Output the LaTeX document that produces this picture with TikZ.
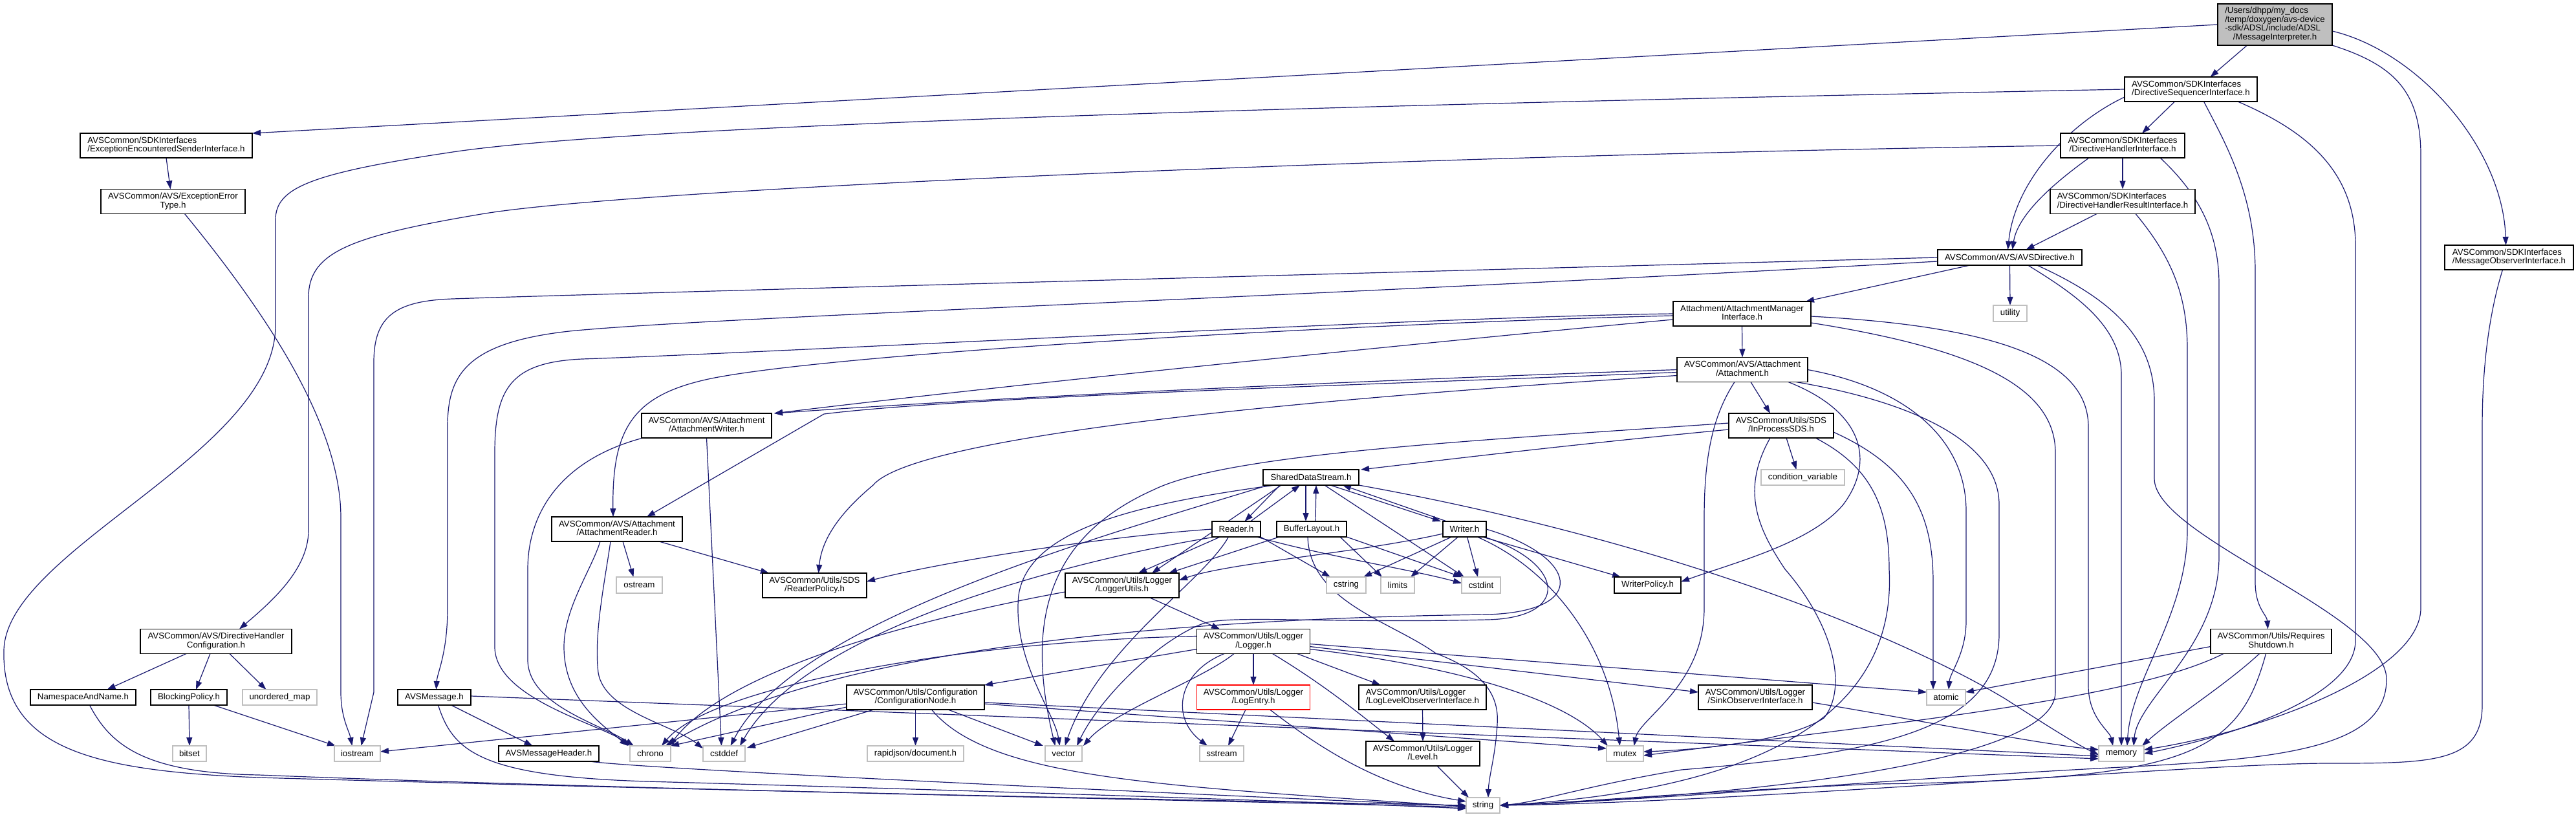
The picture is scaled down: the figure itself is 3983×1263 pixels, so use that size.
\documentclass[tikz,border=0pt]{standalone}
\usepackage{fontspec}
\setmainfont{Liberation Sans}
\usetikzlibrary{arrows.meta,calc}
\definecolor{edgec}{HTML}{191970}
\definecolor{sysc}{HTML}{BFBFBF}
\definecolor{mainfill}{HTML}{BFBFBF}
\newcommand{\dlab}[2]{\begin{tabular}{@{}l@{}}#1\\\multicolumn{1}{@{}c@{}}{#2}\end{tabular}}
\pgfdeclarelayer{bg}
\pgfsetlayers{bg,main}
\tikzset{
  nd/.style={rectangle, inner sep=0pt, outer sep=0pt, line width=1.3pt, fill=white, font={\fontsize{13.3}{13.3}\selectfont}, align=center},
  doc/.style={nd, draw=black},
  sys/.style={nd, draw=sysc},
  incl/.style={draw=edgec, line width=1.2pt, line join=round, -{Triangle[length=13pt,width=9pt]}},
}
\begin{document}
\begin{tikzpicture}[x=1pt,y=1pt]
\useasboundingbox (0,0) rectangle (3983,-1263);
% ---------------- nodes ----------------
\node[doc, fill=mainfill, minimum width=177pt, minimum height=64pt] (MI) at (3517.5,-38) {\begin{tabular}{@{}l@{}}/Users/dhpp/my\_docs\\/temp/doxygen/avs-device\\-sdk/ADSL/include/ADSL\\\multicolumn{1}{@{}c@{}}{/MessageInterpreter.h}\end{tabular}};
\node[doc,minimum width=205pt,minimum height=38pt] (DSI) at (3387.5,-138) {\dlab{AVSCommon/SDKInterfaces}{/DirectiveSequencerInterface.h}};
\node[doc,minimum width=266pt,minimum height=38pt] (EESI) at (257,-225) {\dlab{AVSCommon/SDKInterfaces}{/ExceptionEncounteredSenderInterface.h}};
\node[doc,minimum width=192pt,minimum height=38pt] (DHI) at (3282,-225) {\dlab{AVSCommon/SDKInterfaces}{/DirectiveHandlerInterface.h}};
\node[doc,minimum width=223pt,minimum height=38pt] (EET) at (267.5,-311.5) {\dlab{AVSCommon/AVS/ExceptionError}{Type.h}};
\node[doc,minimum width=224pt,minimum height=38pt] (DHRI) at (3282,-311.5) {\dlab{AVSCommon/SDKInterfaces}{/DirectiveHandlerResultInterface.h}};
\node[doc,minimum width=223pt,minimum height=24pt] (AVSD) at (3107.5,-398) {AVSCommon/AVS/AVSDirective.h};
\node[doc,minimum width=199pt,minimum height=38pt] (MOI) at (3879.5,-398) {\dlab{AVSCommon/SDKInterfaces}{/MessageObserverInterface.h}};
\node[sys,minimum width=52pt,minimum height=25pt] (utility) at (3108,-484.5) {utility};
\node[doc,minimum width=213pt,minimum height=38pt] (AMI) at (2693.5,-485) {\dlab{Attachment/AttachmentManager}{Interface.h}};
\node[doc,minimum width=202pt,minimum height=38pt] (ATT) at (2694,-571.5) {\dlab{AVSCommon/AVS/Attachment}{/Attachment.h}};
\node[doc,minimum width=201pt,minimum height=38pt] (AW) at (1092.5,-658) {\dlab{AVSCommon/AVS/Attachment}{/AttachmentWriter.h}};
\node[doc,minimum width=162pt,minimum height=38pt] (IPSDS) at (2754,-658) {\dlab{AVSCommon/Utils/SDS}{/InProcessSDS.h}};
\node[sys,minimum width=129pt,minimum height=24pt] (condvar) at (2787.5,-738) {condition\_variable};
\node[doc,minimum width=148pt,minimum height=24pt] (SDS) at (2027,-738) {SharedDataStream.h};
\node[doc,minimum width=202pt,minimum height=38pt] (AR) at (954,-818) {\dlab{AVSCommon/AVS/Attachment}{/AttachmentReader.h}};
\node[doc,minimum width=75pt,minimum height=24pt] (Reader) at (1911.5,-818) {Reader.h};
\node[doc,minimum width=108pt,minimum height=24pt] (BL) at (2028,-818) {BufferLayout.h};
\node[doc,minimum width=67pt,minimum height=24pt] (Writer) at (2264.5,-818) {Writer.h};
\node[sys,minimum width=71pt,minimum height=25pt] (ostream) at (988.5,-904.5) {ostream};
\node[doc,minimum width=161pt,minimum height=38pt] (RP) at (1259.5,-905) {\dlab{AVSCommon/Utils/SDS}{/ReaderPolicy.h}};
\node[doc,minimum width=176pt,minimum height=38pt] (LU) at (1735,-905) {\dlab{AVSCommon/Utils/Logger}{/LoggerUtils.h}};
\node[sys,minimum width=61pt,minimum height=25pt] (cstring) at (2081.5,-904.5) {cstring};
\node[sys,minimum width=52pt,minimum height=25pt] (limits) at (2161,-904.5) {limits};
\node[sys,minimum width=60pt,minimum height=25pt] (cstdint) at (2290,-904.5) {cstdint};
\node[doc,minimum width=103pt,minimum height=25pt] (WP) at (2547.5,-904.5) {WriterPolicy.h};
\node[doc,minimum width=234pt,minimum height=38pt] (DHC) at (334,-991.5) {\dlab{AVSCommon/AVS/DirectiveHandler}{Configuration.h}};
\node[doc,minimum width=175pt,minimum height=38pt] (Logger) at (1938,-991.5) {\dlab{AVSCommon/Utils/Logger}{/Logger.h}};
\node[doc,minimum width=187pt,minimum height=38pt] (RS) at (3511.5,-991.5) {\dlab{AVSCommon/Utils/Requires}{Shutdown.h}};
\node[doc,minimum width=163pt,minimum height=24pt] (NAN) at (128.5,-1078) {NamespaceAndName.h};
\node[doc,minimum width=118pt,minimum height=24pt] (BP) at (292,-1078) {BlockingPolicy.h};
\node[sys,minimum width=115pt,minimum height=24pt] (umap) at (432.5,-1078) {unordered\_map};
\node[doc,minimum width=113pt,minimum height=24pt] (AVSM) at (671.5,-1078) {AVSMessage.h};
\node[doc,minimum width=213pt,minimum height=38pt] (CN) at (1415.5,-1078) {\dlab{AVSCommon/Utils/Configuration}{/ConfigurationNode.h}};
\node[doc,draw=red,minimum width=175pt,minimum height=38pt] (LE) at (1938,-1078) {\dlab{AVSCommon/Utils/Logger}{/LogEntry.h}};
\node[doc,minimum width=197pt,minimum height=38pt] (LLOI) at (2199.5,-1078) {\dlab{AVSCommon/Utils/Logger}{/LogLevelObserverInterface.h}};
\node[doc,minimum width=176pt,minimum height=38pt] (SOI) at (2714,-1078) {\dlab{AVSCommon/Utils/Logger}{/SinkObserverInterface.h}};
\node[sys,minimum width=60pt,minimum height=24pt] (atomic) at (3009,-1078) {atomic};
\node[sys,minimum width=52pt,minimum height=24pt] (bitset) at (293,-1165) {bitset};
\node[sys,minimum width=71pt,minimum height=24pt] (iostream) at (552.5,-1165) {iostream};
\node[doc,minimum width=155pt,minimum height=24pt] (AVSMH) at (848.5,-1165) {AVSMessageHeader.h};
\node[sys,minimum width=63pt,minimum height=24pt] (chrono) at (1005.5,-1165) {chrono};
\node[sys,minimum width=65pt,minimum height=24pt] (cstddef) at (1119.5,-1165) {cstddef};
\node[sys,minimum width=149pt,minimum height=24pt] (rapidjson) at (1415.5,-1165) {rapidjson/document.h};
\node[sys,minimum width=57pt,minimum height=24pt] (vector) at (1644.5,-1165) {vector};
\node[sys,minimum width=68pt,minimum height=24pt] (sstream) at (1889,-1165) {sstream};
\node[doc,minimum width=176pt,minimum height=38pt] (Level) at (2200,-1165) {\dlab{AVSCommon/Utils/Logger}{/Level.h}};
\node[sys,minimum width=57pt,minimum height=24pt] (mutex) at (2512.5,-1165) {mutex};
\node[sys,minimum width=70pt,minimum height=24pt] (memory) at (3280,-1165) {memory};
\node[sys,minimum width=52pt,minimum height=24pt] (string) at (2293,-1245) {string};
% ---------------- edges ----------------
\begin{pgfonlayer}{bg}
\fill[white] (0,0) rectangle (3983,-1263);
% MI
\draw[incl] (MI.west) -- (EESI.north east);
\draw[incl] ($(MI.south)+(-43,0)$) -- ($(DSI.north)+(30,0)$);
\draw[incl] ($(MI.east)+(0,-10)$) .. controls (3740,-80) and (3870,-230) .. ($(MOI.north)+(-5,0)$);
\draw[incl] (MI.south east) .. controls (3700,-100) and (3743,-140) .. (3743,-240) -- (3743,-940) .. controls (3743,-1040) and (3500,-1130) .. ($(memory.east)+(0,6)$);
% DSI
\draw[incl] (DSI.west) .. controls (2200,-160) and (1000,-190) .. (700,-235) .. controls (480,-268) and (426,-290) .. (426,-340) -- (426,-503) .. controls (426,-700) and (10,-850) .. (6,-1005) .. controls (2,-1160) and (150,-1192) .. (400,-1202) .. controls (1200,-1225) and (2000,-1240) .. (string.west);
\draw[incl] ($(DSI.west)+(0,-12)$) .. controls (3200,-190) and (3115,-280) .. ($(AVSD.north)+(-3,0)$);
\draw[incl] ($(DSI.south)+(-25,0)$) -- ($(DHI.north)+(30,0)$);
\draw[incl] ($(DSI.south)+(20,0)$) .. controls (3440,-220) and (3487,-300) .. (3487,-420) -- (3487,-900) .. controls (3487,-940) and (3505,-950) .. ($(RS.north)+(-5,0)$);
\draw[incl] ($(DSI.south east)+(-30,0)$) .. controls (3560,-200) and (3642,-260) .. (3642,-380) -- (3642,-990) .. controls (3642,-1080) and (3440,-1140) .. (memory.east);
% EESI, EET
\draw[incl] (EESI.south) -- ($(EET.north)+(-4,0)$);
\draw[incl] ($(EET.south)+(18,0)$) .. controls (400,-470) and (527,-650) .. (527,-800) -- (527,-1070) .. controls (527,-1110) and (540,-1130) .. ($(iostream.north)+(-8,0)$);
% DHI
\draw[incl] (DHI.west) .. controls (2200,-240) and (1000,-290) .. (750,-330) .. controls (540,-365) and (477,-390) .. (477,-460) -- (477,-820) .. controls (477,-880) and (420,-930) .. ($(DHC.north)+(36,0)$);
\draw[incl] ($(DHI.south west)+(44,0)$) .. controls (3180,-280) and (3120,-330) .. ($(AVSD.north)+(4,0)$);
\draw[incl] (DHI.south) -- (DHRI.north);
\draw[incl] ($(DHI.south east)+(-38,0)$) .. controls (3400,-300) and (3431,-360) .. (3431,-440) -- (3431,-860) .. controls (3431,-1000) and (3305,-1080) .. ($(memory.north)+(19,0)$);
% DHRI
\draw[incl] ($(DHRI.south)+(-40,0)$) -- ($(AVSD.north)+(25,0)$);
\draw[incl] ($(DHRI.south)+(20,0)$) .. controls (3360,-400) and (3382,-460) .. (3382,-540) -- (3382,-820) .. controls (3382,-950) and (3295,-1050) .. ($(memory.north)+(9,0)$);
% AVSD
\draw[incl] (AVSD.west) .. controls (2000,-425) and (900,-455) .. (700,-462) .. controls (610,-465) and (578,-490) .. (578,-560) -- (578,-1070) -- ($(iostream.north)+(6,0)$);
\draw[incl] ($(AVSD.west)+(0,-6)$) .. controls (2000,-460) and (1100,-490) .. (880,-512) .. controls (720,-530) and (692,-580) .. (692,-660) -- (692,-940) .. controls (692,-1010) and (676,-1040) .. ($(AVSM.north)+(3,0)$);
\draw[incl] (AVSD.south) -- (utility.north);
\draw[incl] ($(AVSD.south west)+(50,0)$) -- ($(AMI.north east)+(-8,0)$);
\draw[incl] ($(AVSD.south)+(28,0)$) .. controls (3200,-450) and (3280,-500) .. (3280,-580) -- (memory.north);
\draw[incl] ($(AVSD.south)+(42,0)$) .. controls (3260,-460) and (3331,-520) .. (3331,-620) -- (3331,-740) .. controls (3331,-830) and (3690,-950) .. (3690,-1050) .. controls (3690,-1150) and (3550,-1172) .. (3300,-1185) .. controls (2900,-1205) and (2600,-1235) .. (string.east);
% MOI
\draw[incl] ($(MOI.south)+(-10,0)$) .. controls (3850,-480) and (3838,-560) .. (3838,-660) -- (3838,-1090) .. controls (3838,-1180) and (3760,-1180) .. (3600,-1180) .. controls (3400,-1180) and (2700,-1240) .. (string.east);
% AMI
\draw[incl] (AMI.south) -- (ATT.north);
\draw[incl] ($(AMI.west)+(0,-9)$) .. controls (2300,-520) and (1600,-590) .. ($(AW.north east)+(4,0)$);
\draw[incl] ($(AMI.west)+(0,-3)$) .. controls (2100,-500) and (1300,-545) .. (1100,-585) .. controls (980,-610) and (946,-660) .. ($(AR.north)+(-6,0)$);
\draw[incl] (AMI.west) .. controls (2200,-490) and (1200,-545) .. (900,-555) .. controls (790,-560) and (765,-600) .. (765,-700) -- (765,-1000) .. controls (765,-1080) and (930,-1120) .. (chrono.north west);
\draw[incl] ($(AMI.east)+(0,-4)$) .. controls (3100,-505) and (3229,-560) .. (3229,-660) -- (3229,-1060) .. controls (3229,-1110) and (3262,-1130) .. ($(memory.north)+(-13,0)$);
\draw[incl] ($(AMI.east)+(0,-14)$) .. controls (3060,-540) and (3178,-600) .. (3178,-700) -- (3178,-1070) .. controls (3178,-1180) and (2700,-1230) .. (string.east);
% ATT
\draw[incl] (ATT.west) .. controls (2200,-585) and (1600,-610) .. ($(AW.north east)+(4,0)$);
\draw[incl] ($(ATT.west)+(0,-4)$) .. controls (2200,-592) and (1500,-612) .. (1274,-640) -- ($(AR.north)+(46,0)$);
\draw[incl] ($(ATT.west)+(0,-9)$) .. controls (1800,-630) and (1400,-690) .. (1350,-750) .. controls (1290,-800) and (1270,-840) .. ($(RP.north)+(6,0)$);
\draw[incl] ($(ATT.south)+(-12,0)$) .. controls (2650,-640) and (2635,-700) .. (2635,-800) -- (2635,-940) .. controls (2635,-1060) and (2535,-1110) .. ($(mutex.north)+(14,0)$);
\draw[incl] ($(ATT.south)+(13,0)$) -- ($(IPSDS.north)+(-17,0)$);
\draw[incl] ($(ATT.south east)+(-30,0)$) .. controls (2890,-640) and (2895,-720) .. (2850,-780) .. controls (2800,-840) and (2680,-870) .. ($(WP.east)+(0,5)$);
\draw[incl] ($(ATT.south east)+(-18,0)$) .. controls (2950,-620) and (3091,-680) .. (3091,-780) -- (3091,-980) .. controls (3091,-1130) and (2900,-1165) .. (2600,-1190) .. controls (2450,-1215) and (2380,-1240) .. (string.east);
\draw[incl] (ATT.east) .. controls (2950,-600) and (3040,-680) .. (3040,-790) -- (3040,-960) .. controls (3040,-1010) and (3015,-1040) .. ($(atomic.north)+(4,0)$);
% AW
\draw[incl] (AW.south) -- ($(cstddef.north)+(-4,0)$);
\draw[incl] ($(AW.south west)+(2,0)$) .. controls (870,-710) and (816,-790) .. (816,-880) -- (816,-1020) .. controls (816,-1090) and (930,-1120) .. ($(chrono.north west)+(6,0)$);
% AR
\draw[incl] ($(AR.south)+(9,0)$) -- ($(ostream.north)+(-9,0)$);
\draw[incl] ($(AR.south)+(-26,0)$) .. controls (915,-880) and (872,-940) .. (872,-1000) .. controls (872,-1080) and (930,-1120) .. ($(chrono.north west)+(-3,0)$);
\draw[incl] ($(AR.south)+(-10,0)$) .. controls (935,-900) and (918,-980) .. (925,-1040) .. controls (935,-1100) and (1040,-1120) .. ($(cstddef.north west)+(0,-4)$);
\draw[incl] ($(AR.south)+(65,0)$) -- ($(RP.north west)+(10,0)$);
% IPSDS
\draw[incl] ($(IPSDS.west)+(0,-6)$) .. controls (2400,-690) and (2200,-715) .. ($(SDS.north east)+(3,0)$);
\draw[incl] ($(IPSDS.west)+(0,4)$) .. controls (2300,-680) and (1900,-700) .. (1784,-757) .. controls (1620,-830) and (1585,-960) .. ($(vector.north)+(-13,0)$);
\draw[incl] ($(IPSDS.south)+(-17,0)$) .. controls (2690,-760) and (2720,-820) .. (2760,-880) .. controls (2830,-960) and (2860,-1060) .. (2820,-1110) .. controls (2760,-1150) and (2600,-1160) .. ($(mutex.east)+(0,3)$);
\draw[incl] ($(IPSDS.south)+(8,0)$) -- ($(condvar.north)+(-10,0)$);
\draw[incl] ($(IPSDS.south east)+(-28,0)$) .. controls (2890,-720) and (2921,-780) .. (2921,-880) .. controls (2935,-1140) and (2650,-1225) .. (string.east);
\draw[incl] ($(IPSDS.east)+(0,-10)$) .. controls (2950,-720) and (2989,-790) .. (2989,-900) -- ($(atomic.north)+(-20,0)$);
% SDS
\draw[incl] ($(SDS.south)+(-48,0)$) -- ($(Reader.north)+(13,0)$);
\draw[incl] ($(SDS.south)+(-8,0)$) -- ($(BL.north)+(-9,0)$);
\draw[incl] ($(SDS.south)+(30,0)$) -- ($(Writer.north west)+(-3,0)$);
\draw[incl] ($(SDS.south)+(21,0)$) -- ($(cstdint.north west)+(4,0)$);
\draw[incl] (SDS.south east) .. controls (2600,-840) and (2950,-990) .. (3100,-1080) .. controls (3170,-1125) and (3210,-1150) .. ($(memory.west)+(0,-2)$);
\draw[incl] ($(SDS.south west)+(28,0)$) -- ($(LU.north)+(46,0)$);
\draw[incl] ($(SDS.south west)+(8,0)$) .. controls (1700,-830) and (1230,-960) .. ($(cstddef.north)+(10,0)$);
\draw[incl] ($(SDS.south west)+(18,0)$) .. controls (1750,-780) and (1590,-820) .. (1575,-920) .. controls (1565,-1020) and (1630,-1100) .. ($(vector.north)+(-6,0)$);
% Reader
\draw[incl] ($(Reader.north)+(22,0)$) -- ($(SDS.south)+(-17,0)$);
\draw[incl] (Reader.west) .. controls (1700,-830) and (1450,-870) .. ($(RP.east)+(0,6)$);
\draw[incl] ($(Reader.south)+(-25,0)$) -- ($(LU.north)+(25,0)$);
\draw[incl] ($(Reader.south west)+(5,0)$) .. controls (1750,-850) and (1260,-950) .. ($(cstddef.north east)+(-8,0)$);
\draw[incl] (Reader.south east) -- ($(cstring.north west)+(6,0)$);
\draw[incl] ($(Reader.south east)+(-6,0)$) .. controls (2050,-860) and (2180,-880) .. ($(cstdint.west)+(0,3)$);
\draw[incl] ($(Reader.south)+(-12,0)$) .. controls (1860,-900) and (1700,-1000) .. ($(vector.north)+(2,0)$);
% BufferLayout
\draw[incl] ($(BL.north)+(6,0)$) -- ($(SDS.south)+(8,0)$);
\draw[incl] ($(BL.south west)+(4,0)$) -- ($(LU.north)+(72,0)$);
\draw[incl] ($(BL.south)+(-6,0)$) .. controls (2025,-930) and (2150,-960) .. (2220,-1010) .. controls (2300,-1040) and (2318,-1080) .. (2315,-1120) .. controls (2312,-1170) and (2302,-1200) .. ($(string.north)+(8,0)$);
\draw[incl] ($(BL.south east)+(-10,0)$) -- ($(limits.north west)+(2,0)$);
\draw[incl] (BL.south east) -- (cstdint.north west);
% Writer
\draw[incl] ($(Writer.north west)+(6,0)$) -- ($(SDS.south)+(49,0)$);
\draw[incl] ($(Writer.west)+(0,-7)$) .. controls (2100,-855) and (1900,-870) .. ($(LU.east)+(0,8)$);
\draw[incl] ($(Writer.south)+(-20,0)$) -- ($(cstring.north east)+(-4,0)$);
\draw[incl] ($(Writer.south)+(-10,0)$) -- ($(limits.north east)+(-6,0)$);
\draw[incl] ($(Writer.south)+(4,0)$) -- ($(cstdint.north)+(-5,0)$);
\draw[incl] ($(Writer.south east)+(-6,0)$) -- ($(WP.north west)+(10,0)$);
\draw[incl] ($(Writer.south east)+(-14,0)$) .. controls (2400,-880) and (2490,-1000) .. ($(mutex.north)+(-8,0)$);
\draw[incl] ($(Writer.south east)+(-3,0)$) .. controls (2420,-870) and (2430,-955) .. (2300,-958) .. controls (2050,-964) and (1900,-950) .. (1860,-964) .. controls (1790,-990) and (1700,-1080) .. ($(vector.north east)+(-8,0)$);
\draw[incl] (Writer.east) .. controls (2440,-860) and (2460,-945) .. (2300,-950) .. controls (1900,-955) and (1300,-990) .. ($(chrono.north east)+(-8,0)$);
% LoggerUtils
\draw[incl] ($(LU.south)+(43,0)$) -- ($(Logger.north)+(-52,0)$);
\draw[incl] ($(LU.west)+(0,-10)$) .. controls (1400,-960) and (1120,-1040) .. ($(chrono.north east)+(-2,0)$);
% Logger
\draw[incl] ($(Logger.west)+(0,-12)$) -- (CN.north east);
\draw[incl] (Logger.south) -- (LE.north);
\draw[incl] ($(Logger.south east)+(-20,0)$) -- ($(LLOI.north)+(-65,0)$);
\draw[incl] ($(Logger.south east)+(-58,0)$) .. controls (2050,-1060) and (2110,-1110) .. ($(Level.north)+(-44,0)$);
\draw[incl] ($(Logger.east)+(0,-8)$) -- ($(SOI.west)+(0,8)$);
\draw[incl] ($(Logger.east)+(0,-4)$) -- ($(atomic.west)+(0,8)$);
\draw[incl] ($(Logger.east)+(0,-12)$) .. controls (2250,-1030) and (2420,-1080) .. ($(mutex.north west)+(2,0)$);
\draw[incl] ($(Logger.south)+(-45,0)$) .. controls (1820,-1040) and (1810,-1110) .. ($(sstream.north)+(-22,0)$);
\draw[incl] ($(Logger.south)+(-30,0)$) .. controls (1860,-1050) and (1720,-1100) .. ($(vector.north east)+(2,0)$);
\draw[incl] ($(Logger.west)+(0,8)$) .. controls (1500,-990) and (1100,-1060) .. ($(chrono.north east)+(-14,0)$);
% ConfigurationNode
\draw[incl] (CN.south) -- (rapidjson.north);
\draw[incl] ($(CN.west)+(0,-10)$) -- ($(iostream.east)+(0,3)$);
\draw[incl] ($(CN.south west)+(0,4)$) -- (chrono.north east);
\draw[incl] ($(CN.south west)+(42,0)$) -- ($(cstddef.north east)+(3,-3)$);
\draw[incl] ($(CN.south)+(25,0)$) .. controls (1530,-1205) and (1800,-1215) .. ($(string.west)+(0,-2)$);
\draw[incl] ($(CN.south east)+(-56,0)$) -- ($(vector.north west)+(-3,0)$);
\draw[incl] ($(CN.east)+(0,-8)$) -- ($(memory.west)+(0,-4)$);
\draw[incl] ($(CN.east)+(0,-10)$) -- ($(mutex.west)+(0,8)$);
% LogEntry
\draw[incl] ($(LE.south)+(-12,0)$) -- ($(sstream.north)+(10,0)$);
\draw[incl] ($(LE.south east)+(-62,0)$) .. controls (2020,-1140) and (2120,-1215) .. ($(string.west)+(0,6)$);
% LLOI, SOI, Level
\draw[incl] (LLOI.south) -- (Level.north);
\draw[incl] ($(SOI.east)+(0,-8)$) .. controls (2950,-1110) and (3150,-1150) .. ($(memory.west)+(0,6)$);
\draw[incl] ($(Level.south)+(22,0)$) -- ($(string.north)+(-22,0)$);
% RequiresShutdown
\draw[incl] ($(RS.west)+(0,-8)$) -- ($(atomic.east)+(0,8)$);
\draw[incl] ($(RS.south west)+(20,0)$) .. controls (3300,-1080) and (2950,-1115) .. ($(mutex.east)+(0,-3)$);
\draw[incl] ($(RS.south)+(-18,0)$) .. controls (3440,-1060) and (3360,-1110) .. ($(memory.north east)+(-3,0)$);
\draw[incl] ($(RS.south)+(-8,0)$) .. controls (3460,-1170) and (3380,-1205) .. (2900,-1212) .. controls (2600,-1225) and (2450,-1240) .. (string.east);
% DirectiveHandlerConfiguration
\draw[incl] ($(DHC.south west)+(71,0)$) -- ($(NAN.north)+(37,0)$);
\draw[incl] ($(DHC.south)+(-9,0)$) -- ($(BP.north)+(11,0)$);
\draw[incl] ($(DHC.south)+(21,0)$) -- ($(umap.north)+(-21,0)$);
% NamespaceAndName, BlockingPolicy
\draw[incl] ($(NAN.south)+(10,0)$) .. controls (170,-1150) and (220,-1195) .. (400,-1198) .. controls (1000,-1222) and (2000,-1240) .. ($(string.west)+(0,-3)$);
\draw[incl] (BP.south) -- (bitset.north);
\draw[incl] ($(BP.south east)+(-21,0)$) -- ($(iostream.north west)+(2,0)$);
% AVSMessage
\draw[incl] ($(AVSM.south)+(26,0)$) -- ($(AVSMH.north)+(-25,0)$);
\draw[incl] ($(AVSM.east)+(0,2)$) -- ($(memory.west)+(0,-8)$);
\draw[incl] ($(AVSM.south)+(6,0)$) .. controls (700,-1160) and (740,-1200) .. (1000,-1208) .. controls (1500,-1222) and (2000,-1238) .. ($(string.west)+(0,-5)$);
\draw[incl] ($(AVSMH.south east)+(-14,0)$) .. controls (1000,-1190) and (2000,-1235) .. ($(string.west)+(0,-1)$);
\end{pgfonlayer}
\end{tikzpicture}
\end{document}
